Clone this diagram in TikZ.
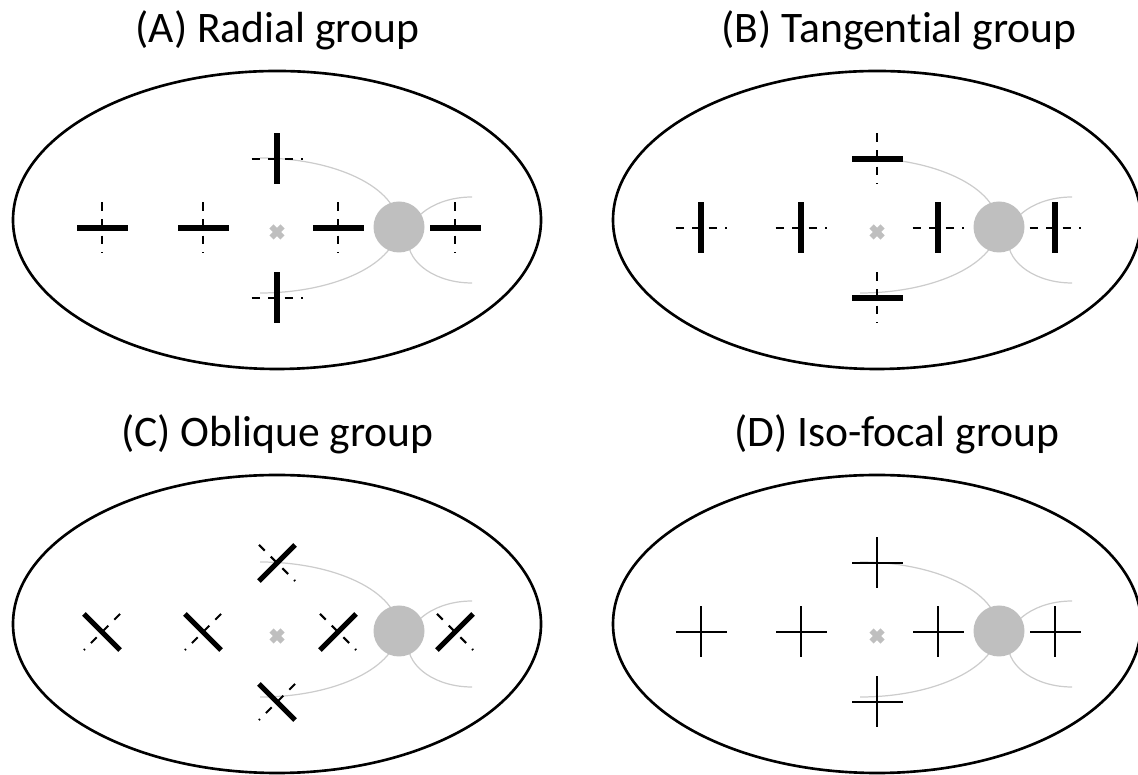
\documentclass[tikz,border=0pt]{standalone}
\usepackage{fontspec}
\setmainfont[Ligatures=NoCommon]{Carlito}

\begin{document}
\begin{tikzpicture}[
  oval/.style={line width=0.75pt},
  focal/.style={black!20,line width=0.35pt},
  bar/.style={line width=1.5pt},
  axis/.style={line width=0.6pt,dash pattern=on 2.3pt off 2.4pt},
  hair/.style={line width=0.75pt},
  title/.style={anchor=base,font=\fontsize{12.4}{15}\selectfont}]
\useasboundingbox (0,0) rectangle (11.38,7.74);
% ellipse, focal curves, source and focus of one panel
\def\backdrop{%
  \draw[oval] (0,0.08) ellipse [x radius=2.64, y radius=1.49];
  \draw[focal] (-0.17,0.70) arc [start angle=90, end angle=-90, x radius=1.38, y radius=0.675];
  \draw[focal] (1.95,0.31) arc [start angle=90, end angle=270, x radius=0.64, y radius=0.43];
  \fill[black!25] (1.22,0.01) circle [radius=0.255];
  \draw[black!25,line width=1.7pt] (-0.055,-0.095) -- (0.055,0.015) (-0.055,0.015) -- (0.055,-0.095);}
% #1 centre, #2 angle of the bar, #3 side where the dashed axis starts
\def\probe#1#2#3{%
  \draw[axis] #1 ++(#3:0.255) -- ++(#3+180:0.51);
  \draw[bar] #1 ++(#2:0.255) -- ++(#2+180:0.51);}
\def\isoprobe#1{%
  \draw[hair] #1 ++(0:0.255) -- ++(180:0.51) #1 ++(90:0.255) -- ++(270:0.51);}

% (A)
\begin{scope}[shift={(2.77,5.46)}]
  \node[title] (titleA) at (0.005,1.85) {(A) Radial group};
  \backdrop
  \foreach \x in {-1.75,-0.74,0.61,1.78} \probe{(\x,0)}{0}{90};
  \foreach \y in {0.69,-0.70} \probe{(0,\y)}{90}{180};
\end{scope}
% (B)
\begin{scope}[shift={(8.77,5.46)}]
  \node[title] (titleB) at (0.22,1.85) {(B) Tangential group};
  \backdrop
  \foreach \x in {-1.76,-0.76,0.61,1.78} \probe{(\x,0)}{90}{180};
  \foreach \y in {0.69,-0.70} \probe{(0,\y)}{0}{90};
\end{scope}
% (C)
\begin{scope}[shift={(2.77,1.42)}]
  \node[title] (titleC) at (0.005,1.85) {(C) Oblique group};
  \backdrop
  \foreach \x in {-1.75,-0.74} \probe{(\x,0)}{135}{45};
  \foreach \x in {0.61,1.78} \probe{(\x,0)}{45}{135};
  \probe{(0,0.69)}{45}{135}
  \probe{(0,-0.70)}{135}{45}
\end{scope}
% (D)
\begin{scope}[shift={(8.77,1.42)}]
  \node[title] (titleD) at (0.20,1.85) {(D) Iso-focal group};
  \backdrop
  \foreach \x in {-1.76,-0.76,0.61,1.78} \isoprobe{(\x,0)};
  \foreach \y in {0.69,-0.70} \isoprobe{(0,\y)};
\end{scope}
\end{tikzpicture}
\end{document}
